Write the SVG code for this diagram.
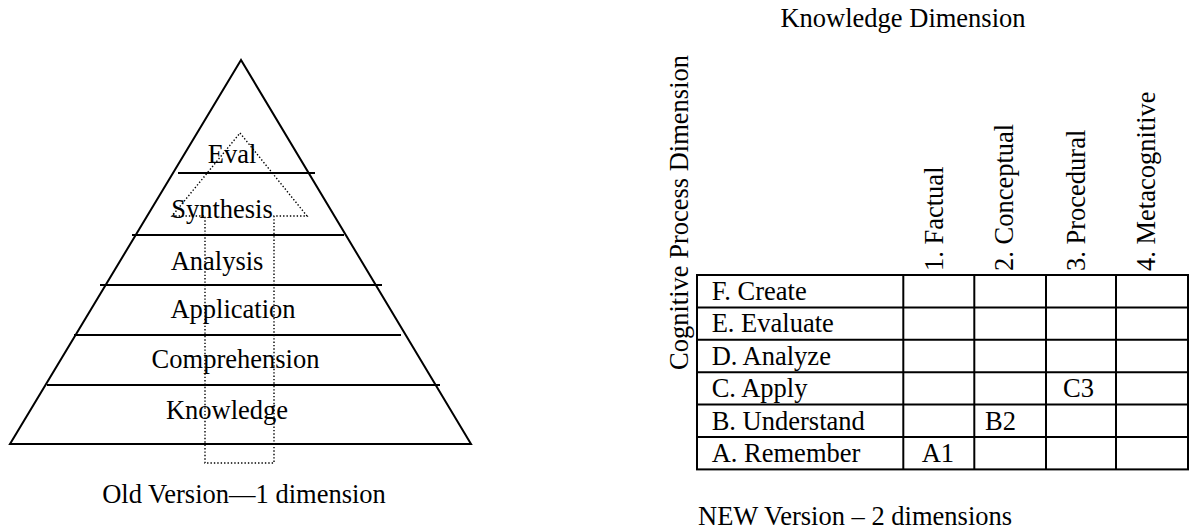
<svg xmlns="http://www.w3.org/2000/svg" width="1199" height="529" viewBox="0 0 1199 529">
  <style>
    text { font-family: "Liberation Serif", "Times New Roman", serif; font-size: 26.5px; fill: #000; }
    .mid { text-anchor: middle; }
    .solid { stroke: #000; stroke-width: 2; fill: none; }
    .dots { stroke: #000; stroke-width: 1.4; fill: none; stroke-dasharray: 1.4 2; }
    .grid { stroke: #000; stroke-width: 2; fill: none; }
  </style>

  <!-- Left: one-dimensional pyramid -->
  <g id="pyramid">
    <polygon class="solid" points="241,60 10,444 471,444"/>
    <line class="solid" x1="178" y1="173" x2="315" y2="173"/>
    <line class="solid" x1="132" y1="235" x2="344" y2="235"/>
    <line class="solid" x1="100" y1="285" x2="382" y2="285"/>
    <line class="solid" x1="74" y1="335" x2="401" y2="335"/>
    <line class="solid" x1="47" y1="385" x2="440" y2="385"/>
  </g>

  <!-- Dotted upward arrow through the levels -->
  <g id="connectors">
    <polygon class="dots" points="240,133 307,216 274,216 274,463 205,463 205,216 172,216"/>
  </g>

  <g id="level-eval"><text x="232" y="163" class="mid">Eval</text></g>
  <g id="level-synthesis"><text x="222" y="218" class="mid">Synthesis</text></g>
  <g id="level-analysis"><text x="217" y="270" class="mid">Analysis</text></g>
  <g id="level-application"><text x="233" y="318" class="mid">Application</text></g>
  <g id="level-comprehension"><text x="235.5" y="368" class="mid">Comprehension</text></g>
  <g id="level-knowledge"><text x="227" y="419" class="mid">Knowledge</text></g>
  <g id="caption-old"><text x="244" y="503" class="mid">Old Version—1 dimension</text></g>

  <!-- Right: two-dimensional table -->
  <g id="title-knowledge"><text x="903" y="27" class="mid">Knowledge Dimension</text></g>
  <g id="title-cognitive"><text transform="translate(688,370) rotate(-90)">Cognitive Process Dimension</text></g>

  <g id="column-headers">
    <text transform="translate(943,271) rotate(-90)">1. Factual</text>
    <text transform="translate(1013,271) rotate(-90)">2. Conceptual</text>
    <text transform="translate(1085,271) rotate(-90)">3. Procedural</text>
    <text transform="translate(1155,271) rotate(-90)">4. Metacognitive</text>
  </g>

  <g id="table">
    <rect class="grid" x="697" y="275" width="491" height="194.4"/>
    <line class="grid" x1="697" y1="307.4" x2="1188" y2="307.4"/>
    <line class="grid" x1="697" y1="339.8" x2="1188" y2="339.8"/>
    <line class="grid" x1="697" y1="372.2" x2="1188" y2="372.2"/>
    <line class="grid" x1="697" y1="404.6" x2="1188" y2="404.6"/>
    <line class="grid" x1="697" y1="437" x2="1188" y2="437"/>
    <line class="grid" x1="903.3" y1="275" x2="903.3" y2="469.4"/>
    <line class="grid" x1="974.3" y1="275" x2="974.3" y2="469.4"/>
    <line class="grid" x1="1046" y1="275" x2="1046" y2="469.4"/>
    <line class="grid" x1="1116" y1="275" x2="1116" y2="469.4"/>
  </g>

  <g id="row-labels">
    <text x="711.7" y="300">F. Create</text>
    <text x="711.7" y="332.4">E. Evaluate</text>
    <text x="711.7" y="364.8">D. Analyze</text>
    <text x="711.7" y="397.2">C. Apply</text>
    <text x="711.7" y="429.6">B. Understand</text>
    <text x="711.7" y="462">A. Remember</text>
  </g>

  <g id="cells">
    <text x="921.7" y="462">A1</text>
    <text x="985" y="429.6">B2</text>
    <text x="1063" y="397.2">C3</text>
  </g>

  <g id="caption-new"><text x="698" y="525">NEW Version – 2 dimensions</text></g>
</svg>
